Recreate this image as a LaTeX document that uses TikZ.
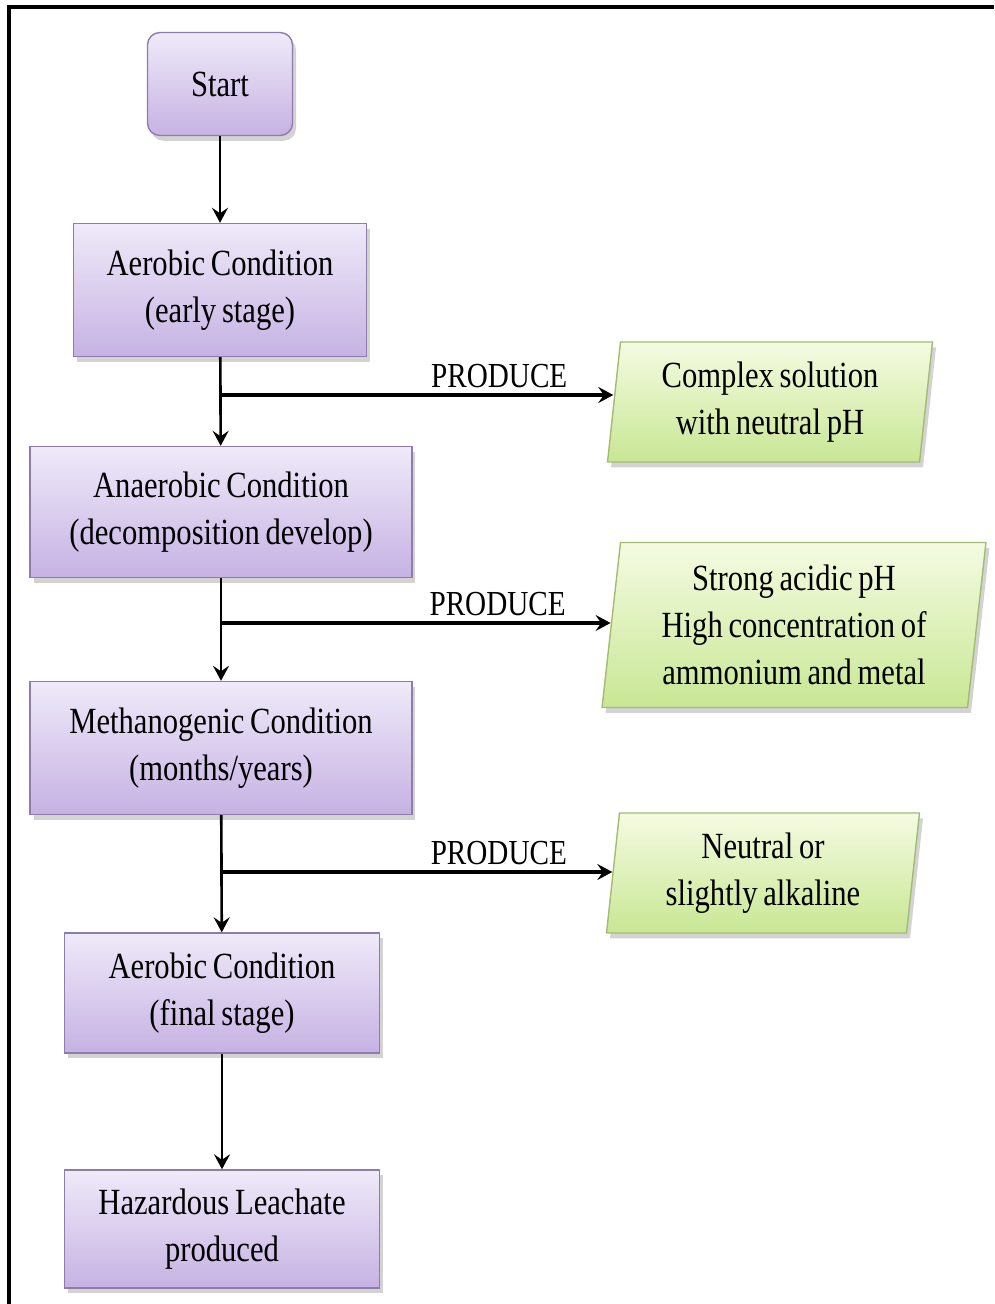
\documentclass[tikz,border=0pt]{standalone}
\usepackage{fontspec}
\setmainfont{Liberation Serif}[FakeStretch=0.83, WordSpace=0.75]
\usetikzlibrary{arrows.meta,positioning,shapes.geometric,shadows}

\definecolor{stagetop}{HTML}{EFEAF9}
\definecolor{stagebot}{HTML}{C6B2E3}
\definecolor{stageline}{HTML}{8C7DAA}
\definecolor{restop}{HTML}{F5FBE2}
\definecolor{resbot}{HTML}{C8E794}
\definecolor{resline}{HTML}{A2BC72}

\begin{document}
\begin{tikzpicture}[x=0.02cm, y=-0.02cm, >={Stealth[length=3mm,width=3.2mm,inset=1.1mm]},
  stage/.style={rectangle, draw=stageline, line width=0.8pt,
    top color=stagetop, bottom color=stagebot, align=center,
    font=\fontsize{21}{26.7}\selectfont,
    drop shadow={shadow xshift=2pt, shadow yshift=-3pt, opacity=0.35}},
  result/.style={trapezium, trapezium left angle=82, trapezium right angle=98,
    trapezium stretches body, draw=resline, line width=0.8pt,
    top color=restop, bottom color=resbot, align=center,
    font=\fontsize{21}{26.7}\selectfont,
    drop shadow={shadow xshift=2pt, shadow yshift=-3pt, opacity=0.35}},
  flow/.style={->, line width=1.5pt},
  branch/.style={->, line width=2pt},
  produce/.style={above, pos=0.71, inner sep=3pt, font=\fontsize{20}{24}\selectfont}
]

\useasboundingbox (0,0) rectangle (994,1304);

% Frame
\draw[line width=2.2pt] (9,1304) -- (9,7) -- (994,7);

% Stages
\node[stage, rounded corners=7pt, minimum width=2.9cm, minimum height=2.06cm] (start) at (220,84) {Start};
\node[stage, minimum width=5.86cm, minimum height=2.66cm] (early) at (220,290) {Aerobic Condition\\(early stage)};
\node[stage, minimum width=7.64cm, minimum height=2.62cm] (anaer) at (221,512) {Anaerobic Condition\\(decomposition develop)};
\node[stage, minimum width=7.64cm, minimum height=2.66cm] (meth) at (221,748) {Methanogenic Condition\\(months/years)};
\node[stage, minimum width=6.3cm, minimum height=2.4cm] (final) at (222,993) {Aerobic Condition\\(final stage)};
\node[stage, minimum width=6.3cm, minimum height=2.36cm] (leach) at (222,1229) {Hazardous Leachate\\produced};

% Products
\node[result, minimum width=6.5cm, minimum height=2.4cm] (neutral) at (770,402) {Complex solution\\with neutral pH};
\node[result, minimum width=7.68cm, minimum height=3.3cm] (acidic) at (794,625) {Strong acidic pH\\High concentration of\\ammonium and metal};
\node[result, minimum width=6.26cm, minimum height=2.4cm] (alkaline) at (763,873) {Neutral or\\slightly alkaline};

% Main flow
\draw[flow] (start) -- (early);
\draw[flow] (early) -- (anaer);
\draw[flow] (anaer) -- (meth);
\draw[flow] (meth) -- (final);
\draw[flow] (final) -- (leach);

% Branches
\coordinate (b1) at (220,395);
\coordinate (b2) at (221,623);
\coordinate (b3) at (221,872);
\draw[branch] (b1) -- (b1 -| neutral.west) node[produce] {PRODUCE};
\draw[branch] (b2) -- (b2 -| acidic.west) node[produce] {PRODUCE};
\draw[branch] (b3) -- (b3 -| alkaline.west) node[produce] {PRODUCE};

\end{tikzpicture}
\end{document}
